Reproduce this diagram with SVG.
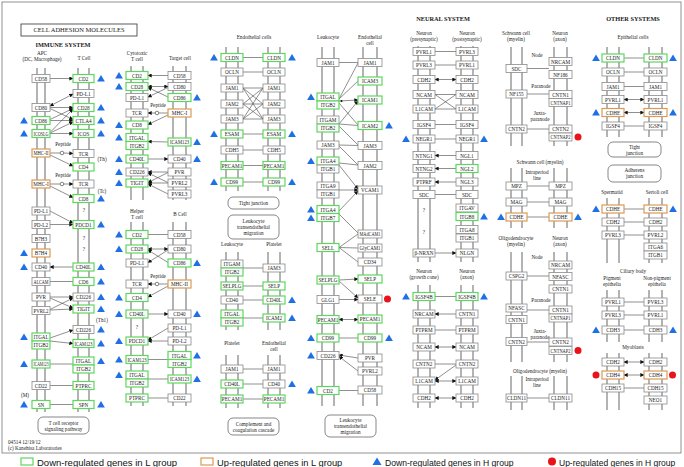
<svg xmlns="http://www.w3.org/2000/svg" xmlns:xlink="http://www.w3.org/1999/xlink" width="684" height="467" viewBox="0 0 684 467">
<style>
.b{fill:#fff;stroke:#8a8a8a;stroke-width:0.8}
.g{fill:#fff;stroke:#5fd65f;stroke-width:1.2}
.o{fill:#fff;stroke:#dc9a55;stroke-width:1.2}
.m{stroke:#a0a0a0;stroke-width:1.6}
.c{stroke:#444;stroke-width:0.6;fill:none}
.ca{marker-end:url(#a)}
.cb{marker-start:url(#a);marker-end:url(#a)}
.rb{fill:#fff;stroke:#555;stroke-width:0.7}
text{font-family:"Liberation Serif","Times New Roman",serif;font-size:5.2px;fill:#222;text-anchor:middle}
.h{font-weight:bold;font-size:6.3px}
.s{text-anchor:start}
.lg{font-family:"Liberation Sans",Arial,sans-serif;font-size:9.5px;text-anchor:start;fill:#111}
.rd{fill:#e8141a}
</style>
<defs>
<marker id="a" viewBox="0 0 6 6" refX="5.5" refY="3" markerWidth="4" markerHeight="4" markerUnits="userSpaceOnUse" orient="auto-start-reverse"><path d="M0,0L6,3L0,6Z" fill="#111"/></marker>
<path id="t" d="M0,-3.5L3.9,3L-3.9,3Z" fill="#1f6fe5"/>
</defs>
<rect x="2" y="2" width="679" height="451" fill="#fff" stroke="#777" stroke-width="0.8"/>
<g id="title"><rect x="21" y="24" width="116" height="12" fill="#fff" stroke="#333" stroke-width="0.8"/><text x="79" y="32.3" style="font-size:6.5px">CELL ADHESION MOLECULES</text></g>

<g id="labels">
<text class="h" x="63" y="47">IMMUNE SYSTEM</text>
<text x="42" y="55">APC</text><text x="42" y="61">(DC, Macrophage)</text><text x="84" y="60">T Cell</text>
<text x="63" y="146">Peptide</text><text x="63" y="177">Peptide</text>
<text x="102" y="161">(Th)</text><text x="102" y="193">(Tc)</text><text x="102" y="322">(Th1)</text><text x="25" y="397">(M)</text>
<text x="84" y="212">?</text><text x="84" y="240">?</text><text x="84" y="251">?</text>
<text x="137" y="55">Cytotoxic</text><text x="137" y="61">T cell</text><text x="180" y="60">Target cell</text>
<text x="158" y="107">Peptide</text>
<text x="137" y="213">Helper</text><text x="137" y="219">T cell</text><text x="180" y="216">B Cell</text>
<text x="158" y="278">Peptide</text><text x="137" y="329">?</text>
<text x="254" y="39">Endothelial cells</text>
<text x="232" y="246">Leukocyte</text><text x="274" y="246">Platelet</text>
<text x="232" y="345">Platelet</text><text x="274" y="345">Endothelial</text><text x="274" y="351">cell</text>
<text x="328" y="39">Leukocyte</text><text x="370" y="39">Endothelial</text><text x="370" y="45">cell</text>
<text class="h" x="443" y="21">NEURAL SYSTEM</text>
<text x="424" y="35">Neuron</text><text x="424" y="41">(presynaptic)</text><text x="467" y="35">Neuron</text><text x="467" y="41">(postsynaptic)</text>
<text x="424" y="212">?</text><text x="424" y="234">?</text>
<text x="424" y="273">Neuron</text><text x="424" y="279">(growth cone)</text><text x="467" y="273">Neuron</text><text x="467" y="279">(axon)</text>
<text x="516" y="35">Schwann cell</text><text x="516" y="41">(myelin)</text><text x="560" y="35">Neuron</text><text x="560" y="41">(axon)</text>
<text x="537" y="57">Node</text><text x="541" y="88">Paranode</text><text x="540" y="115">Juxta-</text><text x="540" y="121">paranode</text>
<text x="540" y="164">Schwann cell (myelin)</text><text x="537" y="174">Intraperiod</text><text x="537" y="180">line</text>
<text x="516" y="240">Oligodendrocyte</text><text x="516" y="246">(myelin)</text><text x="560" y="240">Neuron</text><text x="560" y="246">(axon)</text>
<text x="537" y="259">Node</text><text x="541" y="302">Paranode</text><text x="540" y="333">Juxta-</text><text x="540" y="339">paranode</text>
<text x="540" y="373">Oligodendrocyte (myelin)</text><text x="537" y="381">Intraperiod</text><text x="537" y="387">line</text>
<text class="h" x="633" y="21">OTHER SYSTEMS</text>
<text x="633" y="39">Epithelial cells</text>
<text x="612" y="194">Spermatid</text><text x="657" y="194">Sertoli cell</text>
<text x="633" y="273">Ciliary body</text><text x="612" y="280">Pigment</text><text x="612" y="286">epithelia</text><text x="657" y="280">Non-pigment</text><text x="657" y="286">epithelia</text>
<text x="633" y="349">Myoblasts</text>
<text class="s" x="8" y="444">04514 12/19/12</text><text class="s" x="8" y="450">(c) Kanehisa Laboratories</text>
</g>

<g id="membranes">
<line class="m" x1="37" y1="68" x2="37" y2="412"/><line class="m" x1="45" y1="68" x2="45" y2="412"/>
<line class="m" x1="78" y1="68" x2="78" y2="412"/><line class="m" x1="89" y1="68" x2="89" y2="412"/>
<line class="m" x1="131" y1="66" x2="131" y2="200"/><line class="m" x1="143" y1="66" x2="143" y2="200"/>
<line class="m" x1="173" y1="66" x2="173" y2="200"/><line class="m" x1="186" y1="66" x2="186" y2="200"/>
<line class="m" x1="131" y1="222" x2="131" y2="406"/><line class="m" x1="143" y1="222" x2="143" y2="406"/>
<line class="m" x1="173" y1="222" x2="173" y2="406"/><line class="m" x1="186" y1="222" x2="186" y2="406"/>
<line class="m" x1="226" y1="47" x2="226" y2="191"/><line class="m" x1="238" y1="47" x2="238" y2="191"/>
<line class="m" x1="268" y1="47" x2="268" y2="191"/><line class="m" x1="280" y1="47" x2="280" y2="191"/>
<line class="m" x1="226" y1="252" x2="226" y2="330"/><line class="m" x1="238" y1="252" x2="238" y2="330"/>
<line class="m" x1="268" y1="252" x2="268" y2="330"/><line class="m" x1="280" y1="252" x2="280" y2="330"/>
<line class="m" x1="226" y1="355" x2="226" y2="408"/><line class="m" x1="238" y1="355" x2="238" y2="408"/>
<line class="m" x1="268" y1="355" x2="268" y2="408"/><line class="m" x1="280" y1="355" x2="280" y2="408"/>
<line class="m" x1="322" y1="47" x2="322" y2="406"/><line class="m" x1="334" y1="47" x2="334" y2="406"/>
<line class="m" x1="363" y1="47" x2="363" y2="406"/><line class="m" x1="377" y1="47" x2="377" y2="406"/>
<line class="m" x1="418" y1="46" x2="418" y2="262"/><line class="m" x1="430" y1="46" x2="430" y2="262"/>
<line class="m" x1="461" y1="46" x2="461" y2="262"/><line class="m" x1="473" y1="46" x2="473" y2="262"/>
<line class="m" x1="418" y1="285" x2="418" y2="408"/><line class="m" x1="430" y1="285" x2="430" y2="408"/>
<line class="m" x1="461" y1="285" x2="461" y2="408"/><line class="m" x1="473" y1="285" x2="473" y2="408"/>
<line class="m" x1="511" y1="47" x2="511" y2="146"/><line class="m" x1="522" y1="47" x2="522" y2="146"/>
<line class="m" x1="554" y1="47" x2="554" y2="146"/><line class="m" x1="567" y1="47" x2="567" y2="146"/>
<line class="m" x1="511" y1="168" x2="511" y2="228"/><line class="m" x1="522" y1="168" x2="522" y2="228"/>
<line class="m" x1="554" y1="168" x2="554" y2="228"/><line class="m" x1="567" y1="168" x2="567" y2="228"/>
<line class="m" x1="511" y1="252" x2="511" y2="362"/><line class="m" x1="522" y1="252" x2="522" y2="362"/>
<line class="m" x1="554" y1="252" x2="554" y2="362"/><line class="m" x1="567" y1="252" x2="567" y2="362"/>
<line class="m" x1="511" y1="376" x2="511" y2="410"/><line class="m" x1="522" y1="376" x2="522" y2="410"/>
<line class="m" x1="554" y1="376" x2="554" y2="410"/><line class="m" x1="567" y1="376" x2="567" y2="410"/>
<line class="m" x1="607" y1="47" x2="607" y2="137"/><line class="m" x1="619" y1="47" x2="619" y2="137"/>
<line class="m" x1="649" y1="47" x2="649" y2="137"/><line class="m" x1="662" y1="47" x2="662" y2="137"/>
<line class="m" x1="607" y1="198" x2="607" y2="263"/><line class="m" x1="619" y1="198" x2="619" y2="263"/>
<line class="m" x1="649" y1="198" x2="649" y2="263"/><line class="m" x1="662" y1="198" x2="662" y2="263"/>
<line class="m" x1="607" y1="290" x2="607" y2="342"/><line class="m" x1="619" y1="290" x2="619" y2="342"/>
<line class="m" x1="649" y1="290" x2="649" y2="342"/><line class="m" x1="662" y1="290" x2="662" y2="342"/>
<line class="m" x1="607" y1="353" x2="607" y2="410"/><line class="m" x1="619" y1="353" x2="619" y2="410"/>
<line class="m" x1="649" y1="353" x2="649" y2="410"/><line class="m" x1="662" y1="353" x2="662" y2="410"/>
</g>

<g id="connectors">
<line class="c ca" x1="50" y1="78.5" x2="73" y2="78.5"/>
<line class="c cb" x1="50" y1="106" x2="73" y2="94"/>
<line class="c ca" x1="50" y1="107.5" x2="73" y2="107.5"/>
<line class="c ca" x1="50" y1="108.5" x2="73" y2="119.5"/>
<line class="c ca" x1="50" y1="119.5" x2="73" y2="108.5"/>
<line class="c ca" x1="50" y1="120.5" x2="73" y2="120.5"/>
<line class="c ca" x1="50" y1="132.5" x2="73" y2="109"/>
<line class="c ca" x1="50" y1="133" x2="73" y2="122"/>
<line class="c ca" x1="50" y1="133.5" x2="73" y2="133.5"/>
<line class="c" x1="50" y1="153" x2="60.2" y2="153"/><circle cx="62" cy="153" r="1.8" fill="#fff" stroke="#333" stroke-width="0.6"/><line class="c ca" x1="63.8" y1="153" x2="73" y2="153.5"/>
<line class="c ca" x1="50" y1="155" x2="73" y2="166"/>
<line class="c" x1="50" y1="184" x2="60.2" y2="184"/><circle cx="62" cy="184" r="1.8" fill="#fff" stroke="#333" stroke-width="0.6"/><line class="c ca" x1="63.8" y1="184" x2="73" y2="184"/>
<line class="c ca" x1="50" y1="186" x2="73" y2="197.5"/>
<line class="c ca" x1="50" y1="211" x2="73" y2="223"/>
<line class="c ca" x1="50" y1="224.5" x2="73" y2="224.5"/>
<line class="c ca" x1="73" y1="267" x2="50" y2="267"/>
<line class="c" x1="50" y1="281.5" x2="73" y2="281.5"/>
<line class="c ca" x1="50" y1="297" x2="73" y2="297"/>
<line class="c ca" x1="50" y1="298" x2="73" y2="308"/>
<line class="c ca" x1="50" y1="309.5" x2="73" y2="298"/>
<line class="c ca" x1="50" y1="310" x2="73" y2="309"/>
<line class="c ca" x1="50" y1="338" x2="73" y2="330"/>
<line class="c ca" x1="50" y1="341" x2="73" y2="343.5"/>
<line class="c" x1="50" y1="364" x2="73" y2="364"/>
<line class="c" x1="50" y1="385.5" x2="73" y2="385.5"/>
<line class="c" x1="50" y1="404.5" x2="73" y2="404.5"/>

<line class="c ca" x1="168" y1="75.5" x2="148" y2="75.5"/>
<line class="c cb" x1="168" y1="86.5" x2="148" y2="86.5"/>
<line class="c ca" x1="168" y1="87.5" x2="148" y2="97"/>
<line class="c ca" x1="168" y1="97" x2="148" y2="87.5"/>
<line class="c" x1="168" y1="113" x2="158.8" y2="113"/><circle cx="157" cy="113" r="1.8" fill="#fff" stroke="#333" stroke-width="0.6"/><line class="c ca" x1="155.2" y1="113" x2="148" y2="113"/>
<line class="c ca" x1="168" y1="115" x2="148" y2="124.5"/>
<line class="c ca" x1="168" y1="142" x2="148" y2="141.5"/>
<line class="c ca" x1="148" y1="159" x2="168" y2="159"/>
<line class="c ca" x1="168" y1="172" x2="148" y2="172"/>
<line class="c ca" x1="168" y1="172.5" x2="148" y2="182.5"/>
<line class="c ca" x1="168" y1="182.5" x2="148" y2="173"/>
<line class="c ca" x1="168" y1="183" x2="148" y2="183"/>
<line class="c ca" x1="168" y1="194" x2="148" y2="184"/>

<line class="c" x1="168" y1="234.5" x2="148" y2="234.5"/>
<line class="c cb" x1="168" y1="249" x2="148" y2="249"/>
<line class="c ca" x1="168" y1="250" x2="148" y2="262.5"/>
<line class="c ca" x1="168" y1="262.5" x2="148" y2="250"/>
<line class="c" x1="168" y1="284" x2="158.8" y2="284"/><circle cx="157" cy="284" r="1.8" fill="#fff" stroke="#333" stroke-width="0.6"/><line class="c ca" x1="155.2" y1="284" x2="148" y2="284"/>
<line class="c ca" x1="168" y1="286" x2="148" y2="297"/>
<line class="c ca" x1="148" y1="314" x2="168" y2="314"/>
<line class="c ca" x1="168" y1="328" x2="148" y2="340"/>
<line class="c ca" x1="168" y1="341" x2="148" y2="341"/>
<line class="c" x1="148" y1="359.5" x2="168" y2="359.5"/>
<line class="c" x1="148" y1="379" x2="168" y2="379"/>
<line class="c" x1="148" y1="398" x2="168" y2="398"/>

<path class="c" d="M243,57.5H263M243,72H263M243,88H263M243,104H263M243,119H263M243,134H263M243,150H263M243,165.5H263M243,182H263M243,88L263,104M243,88L263,119M243,104L263,88M243,104L263,119M243,119L263,88M243,119L263,104"/>
<path class="c" d="M243,268H263M243,286H263M243,300H263M243,318H263M243,369H263M243,384H263M243,399H263"/>

<path class="c" d="M339,62.5H358M339,99L358,63M339,99L358,81M339,103L358,125M339,124L358,125.5M339,126L358,145M339,145L358,145.5M339,146L358,165M339,163L358,165M339,214L358,233M339,247.5L358,234M339,247.5L358,248M339,247.5L358,262M339,338H358M339,390.5H358"/>
<line class="c ca" x1="339" y1="101" x2="358" y2="100"/><circle cx="341.5" cy="101" r="1" fill="#111"/>
<line class="c ca" x1="339" y1="124" x2="358" y2="101"/>
<line class="c ca" x1="339" y1="165" x2="358" y2="189"/>
<line class="c ca" x1="339" y1="190" x2="358" y2="190"/>
<line class="c ca" x1="339" y1="211" x2="358" y2="191"/>
<line class="c ca" x1="339" y1="280" x2="358" y2="279"/>
<line class="c ca" x1="339" y1="281" x2="358" y2="298"/>
<line class="c ca" x1="339" y1="299.5" x2="358" y2="299.5"/>
<line class="c cb" x1="339" y1="319.5" x2="358" y2="319.5"/>
<line class="c ca" x1="358" y1="358" x2="339" y2="355"/>
<line class="c ca" x1="358" y1="371" x2="339" y2="356.5"/>

<path class="c" d="M435,51.5H456M435,65H456M435,94.5H456M435,109H456M435,94.5L456,109M435,109L456,94.5M435,124.5H456M435,139H456M435,194.5H456M435,296.5H456M435,330H456M435,364H456"/>
<line class="c cb" x1="435" y1="79.5" x2="456" y2="79.5"/>
<line class="c ca" x1="456" y1="155.5" x2="435" y2="155.5"/>
<line class="c ca" x1="456" y1="168.5" x2="435" y2="168.5"/>
<line class="c ca" x1="456" y1="182" x2="435" y2="182"/>
<line class="c ca" x1="435" y1="253" x2="456" y2="253"/>
<line class="c ca" x1="456" y1="314" x2="435" y2="314"/>
<line class="c cb" x1="435" y1="347" x2="456" y2="347"/>
<line class="c ca" x1="456" y1="365" x2="435" y2="380"/>
<line class="c cb" x1="435" y1="381" x2="456" y2="381"/>
<line class="c cb" x1="435" y1="398" x2="456" y2="398"/>

<path class="c" d="M527,68.5H549M527,94H549M527,129H549M527,186H549M527,202H549M527,217H549M527,276H549M527,310H549M527,342H549M527,398H549"/>

<path class="c" d="M624,58H644M624,72H644M624,86.5H644M624,126H644M624,209H644M624,222H644M624,235H644M624,302H644M624,315H644M624,330H644M624,388H644"/>
<line class="c cb" x1="624" y1="99.5" x2="644" y2="99.5"/>
<line class="c cb" x1="624" y1="112.5" x2="644" y2="112.5"/>
<line class="c cb" x1="624" y1="362" x2="644" y2="362"/>
<line class="c cb" x1="624" y1="375" x2="644" y2="375"/>
</g>

<g id="pathways">
<g id="pw-tcr"><rect class="rb" x="38" y="417" width="51" height="17" rx="5"/><text x="63.5" y="424.5">T cell receptor</text><text x="63.5" y="430.5">signaling pathway</text></g>
<g id="pw-tj1"><rect class="rb" x="228" y="197" width="51" height="12" rx="5"/><text x="253.5" y="205">Tight junction</text></g>
<g id="pw-lte1"><rect class="rb" x="228" y="215" width="51" height="24" rx="5"/><text x="253.5" y="223">Leukocyte</text><text x="253.5" y="229">transendothelial</text><text x="253.5" y="235">migration</text></g>
<g id="pw-cc"><rect class="rb" x="228" y="418" width="51" height="17" rx="5"/><text x="253.5" y="425.5">Complement and</text><text x="253.5" y="431.5">coagulation cascade</text></g>
<g id="pw-lte2"><rect class="rb" x="325" y="415" width="51" height="22" rx="5"/><text x="350.5" y="422">Leukocyte</text><text x="350.5" y="428">transendothelial</text><text x="350.5" y="434">migration</text></g>
<g id="pw-tj2"><rect class="rb" x="608" y="142" width="53" height="15" rx="5"/><text x="634.5" y="149">Tight</text><text x="634.5" y="155">junction</text></g>
<g id="pw-aj"><rect class="rb" x="608" y="165" width="53" height="17" rx="5"/><text x="634.5" y="172">Adherens</text><text x="634.5" y="178">junction</text></g>
</g>

<g id="immune-apc-tcell">
<g id="a1"><rect class="b" x="32" y="74.5" width="18" height="8"/><text x="41" y="80.5">CD58</text></g>
<g id="a2"><rect class="b" x="32" y="103.5" width="18" height="8"/><text x="41" y="109.5">CD80</text></g>
<g id="a3"><rect class="g" x="32" y="116.5" width="18" height="8"/><text x="41" y="122.5">CD86</text><use href="#t" x="24" y="120.5"/></g>
<g id="a4"><rect class="g" x="32" y="129.5" width="18" height="8"/><text x="41" y="135.5" textLength="15" lengthAdjust="spacingAndGlyphs">ICOSLG</text><use href="#t" x="24" y="133.5"/></g>
<g id="a5"><rect class="o" x="32" y="149" width="18" height="8"/><text x="41" y="155" textLength="15" lengthAdjust="spacingAndGlyphs">MHC-II</text></g>
<g id="a6"><rect class="o" x="32" y="180" width="18" height="8"/><text x="41" y="186">MHC-I</text></g>
<g id="a7"><rect class="b" x="32" y="207" width="18" height="8"/><text x="41" y="213">PD-L1</text></g>
<g id="a8"><rect class="b" x="32" y="220.5" width="18" height="8"/><text x="41" y="226.5">PD-L2</text></g>
<g id="a9"><rect class="b" x="32" y="234.5" width="18" height="8"/><text x="41" y="240.5">B7H3</text></g>
<g id="a10"><rect class="o" x="32" y="249" width="18" height="8"/><text x="41" y="255">B7H4</text><use href="#t" x="24" y="253"/></g>
<g id="a11"><rect class="b" x="32" y="263" width="18" height="8"/><text x="41" y="269">CD40</text><use href="#t" x="24" y="267"/></g>
<g id="a12"><rect class="b" x="32" y="277.5" width="18" height="8"/><text x="41" y="283.5" textLength="15" lengthAdjust="spacingAndGlyphs">ALCAM</text></g>
<g id="a13"><rect class="b" x="32" y="293" width="18" height="8"/><text x="41" y="299">PVR</text></g>
<g id="a14"><rect class="b" x="32" y="306.5" width="18" height="8"/><text x="41" y="312.5" textLength="15" lengthAdjust="spacingAndGlyphs">PVRL2</text></g>
<g id="a15"><rect class="g" x="32" y="333" width="18" height="8"/><text x="41" y="339" textLength="15" lengthAdjust="spacingAndGlyphs">ITGAL</text><rect class="g" x="32" y="341" width="18" height="8"/><text x="41" y="347" textLength="15" lengthAdjust="spacingAndGlyphs">ITGB2</text><use href="#t" x="24" y="337"/></g>
<g id="a16"><rect class="g" x="32" y="360" width="18" height="8"/><text x="41" y="366" textLength="15" lengthAdjust="spacingAndGlyphs">ICAM123</text><use href="#t" x="24" y="364"/></g>
<g id="a17"><rect class="b" x="32" y="381.5" width="18" height="8"/><text x="41" y="387.5">CD22</text></g>
<g id="a18"><rect class="g" x="32" y="400.5" width="18" height="8"/><text x="41" y="406.5">SN</text><use href="#t" x="24" y="404.5"/></g>

<g id="t1"><rect class="g" x="73" y="74.5" width="21" height="8"/><text x="83.5" y="80.5">CD2</text><use href="#t" x="101" y="78.5"/></g>
<g id="t2"><rect class="b" x="73" y="89.5" width="21" height="8"/><text x="83.5" y="95.5">PD-L1</text></g>
<g id="t3"><rect class="g" x="73" y="103.5" width="21" height="8"/><text x="83.5" y="109.5">CD28</text><use href="#t" x="101" y="107.5"/></g>
<g id="t4"><rect class="g" x="73" y="116.5" width="21" height="8"/><text x="83.5" y="122.5">CTLA4</text><use href="#t" x="101" y="120.5"/></g>
<g id="t5"><rect class="g" x="73" y="129.5" width="21" height="8"/><text x="83.5" y="135.5">ICOS</text><use href="#t" x="101" y="133.5"/></g>
<g id="t6"><rect class="b" x="73" y="149.5" width="21" height="8"/><text x="83.5" y="155.5">TCR</text></g>
<g id="t7"><rect class="g" x="73" y="163" width="21" height="8"/><text x="83.5" y="169">CD4</text></g>
<g id="t8"><rect class="b" x="73" y="180" width="21" height="8"/><text x="83.5" y="186">TCR</text></g>
<g id="t9"><rect class="g" x="73" y="194.5" width="21" height="8"/><text x="83.5" y="200.5">CD8</text><use href="#t" x="101" y="198.5"/></g>
<g id="t10"><rect class="g" x="73" y="220.5" width="21" height="8"/><text x="83.5" y="226.5">PDCD1</text><use href="#t" x="101" y="224.5"/></g>
<g id="t11"><rect class="g" x="73" y="263" width="21" height="8"/><text x="83.5" y="269">CD40L</text><use href="#t" x="101" y="267"/></g>
<g id="t12"><rect class="g" x="73" y="277.5" width="21" height="8"/><text x="83.5" y="283.5">CD6</text><use href="#t" x="101" y="281.5"/></g>
<g id="t13"><rect class="b" x="73" y="293" width="21" height="8"/><text x="83.5" y="299">CD226</text><use href="#t" x="101" y="297"/></g>
<g id="t14"><rect class="g" x="73" y="305" width="21" height="8"/><text x="83.5" y="311">TIGIT</text><use href="#t" x="101" y="309"/></g>
<g id="t15"><rect class="b" x="73" y="325.5" width="21" height="8"/><text x="83.5" y="331.5">CD226</text><use href="#t" x="101" y="329.5"/></g>
<g id="t16"><rect class="g" x="73" y="339.5" width="21" height="8"/><text x="83.5" y="345.5" textLength="18" lengthAdjust="spacingAndGlyphs">ICAM123</text><use href="#t" x="101" y="343.5"/></g>
<g id="t17"><rect class="g" x="73" y="357" width="21" height="8"/><text x="83.5" y="363">ITGAL</text><rect class="g" x="73" y="365" width="21" height="8"/><text x="83.5" y="371">ITGB2</text><use href="#t" x="101" y="361"/></g>
<g id="t18"><rect class="g" x="73" y="381.5" width="21" height="8"/><text x="83.5" y="387.5">PTPRC</text></g>
<g id="t19"><rect class="g" x="73" y="400.5" width="21" height="8"/><text x="83.5" y="406.5">SPN</text><use href="#t" x="101" y="404.5"/></g>
</g>

<g id="immune-ctl-target">
<g id="c1"><rect class="g" x="126" y="71.5" width="22" height="8"/><text x="137" y="77.5">CD2</text><use href="#t" x="119" y="75.5"/></g>
<g id="c2"><rect class="g" x="126" y="82.5" width="22" height="8"/><text x="137" y="88.5">CD28</text><use href="#t" x="119" y="86.5"/></g>
<g id="c3"><rect class="b" x="126" y="93.5" width="22" height="8"/><text x="137" y="99.5">PD-L1</text></g>
<g id="c4"><rect class="b" x="126" y="109" width="22" height="8"/><text x="137" y="115">TCR</text></g>
<g id="c5"><rect class="g" x="126" y="121" width="22" height="8"/><text x="137" y="127">CD8</text><use href="#t" x="119" y="125"/></g>
<g id="c6"><rect class="g" x="126" y="133.5" width="22" height="8"/><text x="137" y="139.5">ITGAL</text><rect class="g" x="126" y="141.5" width="22" height="8"/><text x="137" y="147.5">ITGB2</text><use href="#t" x="119" y="137.5"/></g>
<g id="c7"><rect class="g" x="126" y="155" width="22" height="8"/><text x="137" y="161">CD40L</text><use href="#t" x="119" y="159"/></g>
<g id="c8"><rect class="b" x="126" y="168" width="22" height="8"/><text x="137" y="174">CD226</text><use href="#t" x="119" y="172"/></g>
<g id="c9"><rect class="g" x="126" y="179" width="22" height="8"/><text x="137" y="185">TIGIT</text><use href="#t" x="119" y="183"/></g>
<g id="g1"><rect class="b" x="168" y="71.5" width="23" height="8"/><text x="179.5" y="77.5">CD58</text></g>
<g id="g2"><rect class="b" x="168" y="82.5" width="23" height="8"/><text x="179.5" y="88.5">CD80</text></g>
<g id="g3"><rect class="g" x="168" y="93.5" width="23" height="8"/><text x="179.5" y="99.5">CD86</text><use href="#t" x="197" y="97.5"/></g>
<g id="g4"><rect class="o" x="168" y="109" width="23" height="8"/><text x="179.5" y="115">MHC-I</text></g>
<g id="g5"><rect class="g" x="168" y="138" width="23" height="8"/><text x="179.5" y="144" textLength="19" lengthAdjust="spacingAndGlyphs">ICAM123</text><use href="#t" x="197" y="142"/></g>
<g id="g6"><rect class="b" x="168" y="155" width="23" height="8"/><text x="179.5" y="161">CD40</text><use href="#t" x="197" y="159"/></g>
<g id="g7"><rect class="b" x="168" y="168" width="23" height="8"/><text x="179.5" y="174">PVR</text></g>
<g id="g8"><rect class="b" x="168" y="179" width="23" height="8"/><text x="179.5" y="185">PVRL2</text></g>
<g id="g9"><rect class="b" x="168" y="190" width="23" height="8"/><text x="179.5" y="196">PVRL3</text></g>
</g>

<g id="immune-th-bcell">
<g id="h1"><rect class="g" x="126" y="230.5" width="22" height="8"/><text x="137" y="236.5">CD2</text><use href="#t" x="119" y="234.5"/></g>
<g id="h2"><rect class="g" x="126" y="245" width="22" height="8"/><text x="137" y="251">CD28</text><use href="#t" x="119" y="249"/></g>
<g id="h3"><rect class="b" x="126" y="259" width="22" height="8"/><text x="137" y="265">PD-L1</text></g>
<g id="h4"><rect class="b" x="126" y="280" width="22" height="8"/><text x="137" y="286">TCR</text></g>
<g id="h5"><rect class="g" x="126" y="293.5" width="22" height="8"/><text x="137" y="299.5">CD4</text><use href="#t" x="119" y="297.5"/></g>
<g id="h6"><rect class="g" x="126" y="310" width="22" height="8"/><text x="137" y="316">CD40L</text><use href="#t" x="119" y="314"/></g>
<g id="h7"><rect class="g" x="126" y="337" width="22" height="8"/><text x="137" y="343">PDCD1</text><use href="#t" x="119" y="341"/></g>
<g id="h8"><rect class="g" x="126" y="355.5" width="22" height="8"/><text x="137" y="361.5" textLength="19" lengthAdjust="spacingAndGlyphs">ICAM123</text><use href="#t" x="119" y="359.5"/></g>
<g id="h9"><rect class="g" x="126" y="371" width="22" height="8"/><text x="137" y="377">ITGAL</text><rect class="g" x="126" y="379" width="22" height="8"/><text x="137" y="385">ITGB2</text><use href="#t" x="119" y="375"/></g>
<g id="h10"><rect class="g" x="126" y="394" width="22" height="8"/><text x="137" y="400">PTPRC</text></g>
<g id="bc1"><rect class="b" x="168" y="230.5" width="23" height="8"/><text x="179.5" y="236.5">CD58</text></g>
<g id="bc2"><rect class="b" x="168" y="245" width="23" height="8"/><text x="179.5" y="251">CD80</text></g>
<g id="bc3"><rect class="g" x="168" y="259" width="23" height="8"/><text x="179.5" y="265">CD86</text><use href="#t" x="197" y="263"/></g>
<g id="bc4"><rect class="o" x="168" y="280" width="23" height="8"/><text x="179.5" y="286">MHC-II</text></g>
<g id="bc5"><rect class="b" x="168" y="310" width="23" height="8"/><text x="179.5" y="316">CD40</text><use href="#t" x="197" y="314"/></g>
<g id="bc6"><rect class="b" x="168" y="324" width="23" height="8"/><text x="179.5" y="330">PD-L1</text></g>
<g id="bc7"><rect class="b" x="168" y="337" width="23" height="8"/><text x="179.5" y="343">PD-L2</text></g>
<g id="bc8"><rect class="g" x="168" y="351.5" width="23" height="8"/><text x="179.5" y="357.5">ITGAL</text><rect class="g" x="168" y="359.5" width="23" height="8"/><text x="179.5" y="365.5">ITGB2</text><use href="#t" x="197" y="355.5"/></g>
<g id="bc9"><rect class="g" x="168" y="375" width="23" height="8"/><text x="179.5" y="381" textLength="19" lengthAdjust="spacingAndGlyphs">ICAM123</text><use href="#t" x="197" y="379"/></g>
<g id="bc10"><rect class="b" x="168" y="394" width="23" height="8"/><text x="179.5" y="400">CD22</text></g>
</g>

<g id="endothelial-tj">
<g id="e1"><rect class="g" x="221" y="53.5" width="22" height="8"/><text x="232" y="59.5">CLDN</text><use href="#t" x="214" y="57.5"/></g>
<g id="e2"><rect class="b" x="221" y="68" width="22" height="8"/><text x="232" y="74">OCLN</text></g>
<g id="e3"><rect class="b" x="221" y="84" width="22" height="8"/><text x="232" y="90">JAM1</text></g>
<g id="e4"><rect class="b" x="221" y="100" width="22" height="8"/><text x="232" y="106">JAM2</text></g>
<g id="e5"><rect class="b" x="221" y="115" width="22" height="8"/><text x="232" y="121">JAM3</text></g>
<g id="e6"><rect class="g" x="221" y="130" width="22" height="8"/><text x="232" y="136">ESAM</text><use href="#t" x="214" y="134"/></g>
<g id="e7"><rect class="b" x="221" y="146" width="22" height="8"/><text x="232" y="152">CDH5</text></g>
<g id="e8"><rect class="g" x="221" y="161.5" width="22" height="8"/><text x="232" y="167.5">PECAM1</text></g>
<g id="e9"><rect class="g" x="221" y="178" width="22" height="8"/><text x="232" y="184">CD99</text><use href="#t" x="214" y="182"/></g>
<g id="f1"><rect class="g" x="263" y="53.5" width="22" height="8"/><text x="274" y="59.5">CLDN</text><use href="#t" x="292" y="57.5"/></g>
<g id="f2"><rect class="b" x="263" y="68" width="22" height="8"/><text x="274" y="74">OCLN</text></g>
<g id="f3"><rect class="b" x="263" y="84" width="22" height="8"/><text x="274" y="90">JAM1</text></g>
<g id="f4"><rect class="b" x="263" y="100" width="22" height="8"/><text x="274" y="106">JAM2</text></g>
<g id="f5"><rect class="b" x="263" y="115" width="22" height="8"/><text x="274" y="121">JAM3</text></g>
<g id="f6"><rect class="g" x="263" y="130" width="22" height="8"/><text x="274" y="136">ESAM</text><use href="#t" x="292" y="134"/></g>
<g id="f7"><rect class="b" x="263" y="146" width="22" height="8"/><text x="274" y="152">CDH5</text></g>
<g id="f8"><rect class="g" x="263" y="161.5" width="22" height="8"/><text x="274" y="167.5">PECAM1</text></g>
<g id="f9"><rect class="g" x="263" y="178" width="22" height="8"/><text x="274" y="184">CD99</text><use href="#t" x="292" y="182"/></g>
</g>

<g id="leuk-platelet">
<g id="lp1"><rect class="b" x="221" y="260" width="22" height="8"/><text x="232" y="266">ITGAM</text><rect class="g" x="221" y="268" width="22" height="8"/><text x="232" y="274">ITGB2</text></g>
<g id="lp2"><rect class="g" x="221" y="282" width="22" height="8"/><text x="232" y="288">SELPLG</text></g>
<g id="lp3"><rect class="b" x="221" y="296" width="22" height="8"/><text x="232" y="302">CD40</text></g>
<g id="lp4"><rect class="g" x="221" y="310" width="22" height="8"/><text x="232" y="316">ITGAL</text><rect class="g" x="221" y="318" width="22" height="8"/><text x="232" y="324">ITGB2</text></g>
<g id="pl1"><rect class="b" x="263" y="264" width="22" height="8"/><text x="274" y="270">JAM3</text></g>
<g id="pl2"><rect class="g" x="263" y="282" width="22" height="8"/><text x="274" y="288">SELP</text></g>
<g id="pl3"><rect class="g" x="263" y="296" width="22" height="8"/><text x="274" y="302">CD40L</text><use href="#t" x="292" y="300"/></g>
<g id="pl4"><rect class="g" x="263" y="314" width="22" height="8"/><text x="274" y="320">ICAM2</text><use href="#t" x="292" y="318"/></g>
<g id="pe1"><rect class="b" x="221" y="365" width="22" height="8"/><text x="232" y="371">JAM1</text></g>
<g id="pe2"><rect class="g" x="221" y="380" width="22" height="8"/><text x="232" y="386">CD40L</text></g>
<g id="pe3"><rect class="g" x="221" y="395" width="22" height="8"/><text x="232" y="401">PECAM1</text></g>
<g id="ep1"><rect class="b" x="263" y="365" width="22" height="8"/><text x="274" y="371">JAM1</text></g>
<g id="ep2"><rect class="b" x="263" y="380" width="22" height="8"/><text x="274" y="386">CD40</text><use href="#t" x="292" y="384"/></g>
<g id="ep3"><rect class="g" x="263" y="395" width="22" height="8"/><text x="274" y="401">PECAM1</text></g>
</g>

<g id="leuk-endo-migration">
<g id="m1"><rect class="b" x="317" y="58.5" width="22" height="8"/><text x="328" y="64.5">JAM1</text></g>
<g id="m2"><rect class="g" x="317" y="93" width="22" height="8"/><text x="328" y="99">ITGAL</text><rect class="g" x="317" y="101" width="22" height="8"/><text x="328" y="107">ITGB2</text><use href="#t" x="311" y="97"/></g>
<g id="m3"><rect class="b" x="317" y="116" width="22" height="8"/><text x="328" y="122">ITGAM</text><rect class="g" x="317" y="124" width="22" height="8"/><text x="328" y="130">ITGB2</text></g>
<g id="m4"><rect class="b" x="317" y="141" width="22" height="8"/><text x="328" y="147">JAM3</text></g>
<g id="m5"><rect class="g" x="317" y="157" width="22" height="8"/><text x="328" y="163">ITGA4</text><rect class="b" x="317" y="165" width="22" height="8"/><text x="328" y="171">ITGB1</text><use href="#t" x="311" y="161"/></g>
<g id="m6"><rect class="b" x="317" y="182" width="22" height="8"/><text x="328" y="188">ITGA9</text><rect class="b" x="317" y="190" width="22" height="8"/><text x="328" y="196">ITGB1</text></g>
<g id="m7"><rect class="g" x="317" y="205.5" width="22" height="8"/><text x="328" y="211.5">ITGA4</text><rect class="g" x="317" y="213.5" width="22" height="8"/><text x="328" y="219.5">ITGB7</text><use href="#t" x="311" y="209.5"/><use href="#t" x="311" y="218"/></g>
<g id="m8"><rect class="g" x="317" y="243.5" width="22" height="8"/><text x="328" y="249.5">SELL</text></g>
<g id="m9"><rect class="g" x="317" y="276" width="22" height="8"/><text x="328" y="282">SELPLG</text></g>
<g id="m10"><rect class="b" x="317" y="295.5" width="22" height="8"/><text x="328" y="301.5">GLG1</text></g>
<g id="m11"><rect class="g" x="317" y="315.5" width="22" height="8"/><text x="328" y="321.5">PECAM1</text></g>
<g id="m12"><rect class="g" x="317" y="334" width="22" height="8"/><text x="328" y="340">CD99</text><use href="#t" x="311" y="338"/></g>
<g id="m13"><rect class="b" x="317" y="351.5" width="22" height="8"/><text x="328" y="357.5">CD226</text><use href="#t" x="311" y="355.5"/></g>
<g id="m14"><rect class="g" x="317" y="386.5" width="22" height="8"/><text x="328" y="392.5">CD2</text><use href="#t" x="311" y="390.5"/></g>
<g id="n1"><rect class="b" x="358" y="58.5" width="24" height="8"/><text x="370" y="64.5">JAM1</text></g>
<g id="n2"><rect class="g" x="358" y="77" width="24" height="8"/><text x="370" y="83">ICAM3</text></g>
<g id="n3"><rect class="g" x="358" y="96" width="24" height="8"/><text x="370" y="102">ICAM1</text></g>
<g id="n4"><rect class="g" x="358" y="121.5" width="24" height="8"/><text x="370" y="127.5">ICAM2</text><use href="#t" x="389" y="125.5"/></g>
<g id="n5"><rect class="b" x="358" y="141.5" width="24" height="8"/><text x="370" y="147.5">JAM3</text></g>
<g id="n6"><rect class="b" x="358" y="161.5" width="24" height="8"/><text x="370" y="167.5">JAM2</text></g>
<g id="n7"><rect class="b" x="358" y="186" width="24" height="8"/><text x="370" y="192">VCAM1</text></g>
<g id="n8"><rect class="b" x="358" y="230" width="24" height="8"/><text x="370" y="236" textLength="21" lengthAdjust="spacingAndGlyphs">MAdCAM1</text></g>
<g id="n9"><rect class="b" x="358" y="244" width="24" height="8"/><text x="370" y="250" textLength="21" lengthAdjust="spacingAndGlyphs">GlyCAM1</text></g>
<g id="n10"><rect class="b" x="358" y="258" width="24" height="8"/><text x="370" y="264">CD34</text></g>
<g id="n11"><rect class="g" x="358" y="275" width="24" height="8"/><text x="370" y="281">SELP</text></g>
<g id="n12"><rect class="b" x="358" y="295" width="24" height="8"/><text x="370" y="301">SELE</text><circle class="rd" cx="387.5" cy="299" r="3.5"/></g>
<g id="n13"><rect class="g" x="358" y="315" width="24" height="8"/><text x="370" y="321">PECAM1</text></g>
<g id="n14"><rect class="g" x="358" y="334" width="24" height="8"/><text x="370" y="340">CD99</text><use href="#t" x="389" y="338"/></g>
<g id="n15"><rect class="b" x="358" y="354" width="24" height="8"/><text x="370" y="360">PVR</text></g>
<g id="n16"><rect class="b" x="358" y="367" width="24" height="8"/><text x="370" y="373">PVRL2</text></g>
<g id="n17"><rect class="b" x="358" y="386" width="24" height="8"/><text x="370" y="392">CD58</text></g>
</g>

<g id="neural">
<g id="np1"><rect class="b" x="413" y="47.5" width="22" height="8"/><text x="424" y="53.5">PVRL1</text></g>
<g id="np2"><rect class="b" x="413" y="61" width="22" height="8"/><text x="424" y="67">PVRL3</text></g>
<g id="np3"><rect class="b" x="413" y="75.5" width="22" height="8"/><text x="424" y="81.5">CDH2</text></g>
<g id="np4"><rect class="b" x="413" y="90.5" width="22" height="8"/><text x="424" y="96.5">NCAM</text></g>
<g id="np5"><rect class="b" x="413" y="105" width="22" height="8"/><text x="424" y="111">L1CAM</text></g>
<g id="np6"><rect class="b" x="413" y="120.5" width="22" height="8"/><text x="424" y="126.5">IGSF4</text></g>
<g id="np7"><rect class="b" x="413" y="135" width="22" height="8"/><text x="424" y="141">NEGR1</text><use href="#t" x="406" y="139"/></g>
<g id="np8"><rect class="b" x="413" y="151.5" width="22" height="8"/><text x="424" y="157.5">NTNG1</text></g>
<g id="np9"><rect class="b" x="413" y="164.5" width="22" height="8"/><text x="424" y="170.5">NTNG2</text></g>
<g id="np10"><rect class="b" x="413" y="178" width="22" height="8"/><text x="424" y="184">PTPRF</text></g>
<g id="np11"><rect class="b" x="413" y="190.5" width="22" height="8"/><text x="424" y="196.5">SDC</text></g>
<g id="np12"><rect class="b" x="413" y="249" width="22" height="8"/><text x="424" y="255">β-NRXN</text></g>
<g id="nq1"><rect class="b" x="456" y="47.5" width="22" height="8"/><text x="467" y="53.5">PVRL3</text></g>
<g id="nq2"><rect class="b" x="456" y="61" width="22" height="8"/><text x="467" y="67">PVRL1</text></g>
<g id="nq3"><rect class="b" x="456" y="75.5" width="22" height="8"/><text x="467" y="81.5">CDH2</text></g>
<g id="nq4"><rect class="b" x="456" y="90.5" width="22" height="8"/><text x="467" y="96.5">NCAM</text></g>
<g id="nq5"><rect class="b" x="456" y="105" width="22" height="8"/><text x="467" y="111">L1CAM</text></g>
<g id="nq6"><rect class="b" x="456" y="120.5" width="22" height="8"/><text x="467" y="126.5">IGSF4</text></g>
<g id="nq7"><rect class="b" x="456" y="135" width="22" height="8"/><text x="467" y="141">NEGR1</text><use href="#t" x="484" y="139"/></g>
<g id="nq8"><rect class="b" x="456" y="151.5" width="22" height="8"/><text x="467" y="157.5">NGL1</text></g>
<g id="nq9"><rect class="g" x="456" y="164.5" width="22" height="8"/><text x="467" y="170.5">NGL2</text></g>
<g id="nq10"><rect class="b" x="456" y="178" width="22" height="8"/><text x="467" y="184">NGL3</text></g>
<g id="nq11"><rect class="b" x="456" y="190.5" width="22" height="8"/><text x="467" y="196.5">SDC</text></g>
<g id="nq12"><rect class="b" x="456" y="204" width="22" height="8"/><text x="467" y="210">ITGAV</text><rect class="g" x="456" y="212.5" width="22" height="8"/><text x="467" y="218.5">ITGB8</text><use href="#t" x="484" y="216.5"/></g>
<g id="nq13"><rect class="b" x="456" y="225.5" width="22" height="8"/><text x="467" y="231.5">ITGA8</text><rect class="b" x="456" y="234" width="22" height="8"/><text x="467" y="240">ITGB1</text></g>
<g id="nq14"><rect class="b" x="456" y="249" width="22" height="8"/><text x="467" y="255">NLGN</text></g>
<g id="ng1"><rect class="g" x="413" y="292.5" width="22" height="8"/><text x="424" y="298.5">IGSF4B</text><use href="#t" x="406" y="296.5"/></g>
<g id="ng2"><rect class="b" x="413" y="310" width="22" height="8"/><text x="424" y="316">NRCAM</text></g>
<g id="ng3"><rect class="b" x="413" y="326" width="22" height="8"/><text x="424" y="332">PTPRM</text></g>
<g id="ng4"><rect class="b" x="413" y="343" width="22" height="8"/><text x="424" y="349">NCAM</text></g>
<g id="ng5"><rect class="b" x="413" y="360" width="22" height="8"/><text x="424" y="366">CNTN2</text></g>
<g id="ng6"><rect class="b" x="413" y="377" width="22" height="8"/><text x="424" y="383">L1CAM</text></g>
<g id="ng7"><rect class="b" x="413" y="394" width="22" height="8"/><text x="424" y="400">CDH2</text></g>
<g id="na1"><rect class="g" x="456" y="292.5" width="22" height="8"/><text x="467" y="298.5">IGSF4B</text><use href="#t" x="484" y="296.5"/></g>
<g id="na2"><rect class="b" x="456" y="310" width="22" height="8"/><text x="467" y="316">CNTN1</text></g>
<g id="na3"><rect class="b" x="456" y="326" width="22" height="8"/><text x="467" y="332">PTPRM</text></g>
<g id="na4"><rect class="b" x="456" y="343" width="22" height="8"/><text x="467" y="349">NCAM</text></g>
<g id="na5"><rect class="b" x="456" y="360" width="22" height="8"/><text x="467" y="366">CNTN2</text></g>
<g id="na6"><rect class="b" x="456" y="377" width="22" height="8"/><text x="467" y="383">L1CAM</text></g>
<g id="na7"><rect class="b" x="456" y="394" width="22" height="8"/><text x="467" y="400">CDH2</text></g>
</g>

<g id="glia">
<g id="sw1"><rect class="b" x="506" y="64.5" width="21" height="8"/><text x="516.5" y="70.5">SDC</text></g>
<g id="sw2"><rect class="b" x="506" y="90" width="21" height="8"/><text x="516.5" y="96">NF155</text></g>
<g id="sw3"><rect class="b" x="506" y="125" width="21" height="8"/><text x="516.5" y="131">CNTN2</text></g>
<g id="sx1"><rect class="b" x="549" y="57.5" width="23" height="8"/><text x="560.5" y="63.5">NRCAM</text></g>
<g id="sx2"><rect class="b" x="549" y="70.5" width="23" height="8"/><text x="560.5" y="76.5">NF186</text></g>
<g id="sx3"><rect class="b" x="549" y="90.5" width="23" height="8"/><text x="560.5" y="96.5">CNTN1</text><rect class="b" x="549" y="98.5" width="23" height="8"/><text x="560.5" y="104.5" textLength="20" lengthAdjust="spacingAndGlyphs">CNTNAP1</text></g>
<g id="sx4"><rect class="b" x="549" y="125" width="23" height="8"/><text x="560.5" y="131">CNTN2</text><rect class="b" x="549" y="133" width="23" height="8"/><text x="560.5" y="139" textLength="20" lengthAdjust="spacingAndGlyphs">CNTNAP2</text><circle class="rd" cx="578" cy="137" r="3.5"/></g>
<g id="sm1"><rect class="b" x="506" y="182" width="21" height="8"/><text x="516.5" y="188">MPZ</text></g>
<g id="sm2"><rect class="b" x="506" y="198" width="21" height="8"/><text x="516.5" y="204">MAG</text></g>
<g id="sm3"><rect class="o" x="506" y="213" width="21" height="8"/><text x="516.5" y="219">CDHE</text><use href="#t" x="501" y="217"/></g>
<g id="sn1"><rect class="b" x="549" y="182" width="23" height="8"/><text x="560.5" y="188">MPZ</text></g>
<g id="sn2"><rect class="b" x="549" y="198" width="23" height="8"/><text x="560.5" y="204">MAG</text></g>
<g id="sn3"><rect class="o" x="549" y="213" width="23" height="8"/><text x="560.5" y="219">CDHE</text><use href="#t" x="578" y="217"/></g>
<g id="ol1"><rect class="b" x="506" y="272" width="21" height="8"/><text x="516.5" y="278">CSPG2</text></g>
<g id="ol2"><rect class="b" x="506" y="304" width="21" height="8"/><text x="516.5" y="310">NFASC</text><rect class="b" x="506" y="315.5" width="21" height="8"/><text x="516.5" y="321.5">CNTN1</text></g>
<g id="ol3"><rect class="b" x="506" y="337.5" width="21" height="8"/><text x="516.5" y="343.5">CNTN2</text></g>
<g id="ol4"><rect class="b" x="506" y="394" width="21" height="8"/><text x="516.5" y="400">CLDN11</text></g>
<g id="oa1"><rect class="b" x="549" y="261" width="23" height="8"/><text x="560.5" y="267">NRCAM</text></g>
<g id="oa2"><rect class="b" x="549" y="272.5" width="23" height="8"/><text x="560.5" y="278.5">NFASC</text></g>
<g id="oa3"><rect class="b" x="549" y="285" width="23" height="8"/><text x="560.5" y="291">CNTN1</text></g>
<g id="oa4"><rect class="b" x="549" y="306" width="23" height="8"/><text x="560.5" y="312">CNTN1</text><rect class="b" x="549" y="314" width="23" height="8"/><text x="560.5" y="320" textLength="20" lengthAdjust="spacingAndGlyphs">CNTNAP1</text></g>
<g id="oa5"><rect class="b" x="549" y="338" width="23" height="8"/><text x="560.5" y="344">CNTN2</text><rect class="b" x="549" y="346.5" width="23" height="8"/><text x="560.5" y="352.5" textLength="20" lengthAdjust="spacingAndGlyphs">CNTNAP2</text><circle class="rd" cx="578" cy="350.5" r="3.5"/></g>
<g id="oa6"><rect class="b" x="549" y="394" width="23" height="8"/><text x="560.5" y="400">CLDN11</text></g>
</g>

<g id="other">
<g id="o1"><rect class="g" x="602" y="54" width="22" height="8"/><text x="613" y="60">CLDN</text><use href="#t" x="596" y="58"/></g>
<g id="o2"><rect class="b" x="602" y="68" width="22" height="8"/><text x="613" y="74">OCLN</text></g>
<g id="o3"><rect class="b" x="602" y="82.5" width="22" height="8"/><text x="613" y="88.5">JAM1</text></g>
<g id="o4"><rect class="b" x="602" y="95.5" width="22" height="8"/><text x="613" y="101.5">PVRL1</text></g>
<g id="o5"><rect class="o" x="602" y="108.5" width="22" height="8"/><text x="613" y="114.5">CDHE</text><use href="#t" x="596" y="112.5"/></g>
<g id="o6"><rect class="b" x="602" y="122" width="22" height="8"/><text x="613" y="128">IGSF4</text></g>
<g id="q1"><rect class="g" x="644" y="54" width="23" height="8"/><text x="655.5" y="60">CLDN</text><use href="#t" x="673" y="58"/></g>
<g id="q2"><rect class="b" x="644" y="68" width="23" height="8"/><text x="655.5" y="74">OCLN</text></g>
<g id="q3"><rect class="b" x="644" y="82.5" width="23" height="8"/><text x="655.5" y="88.5">JAM1</text></g>
<g id="q4"><rect class="b" x="644" y="95.5" width="23" height="8"/><text x="655.5" y="101.5">PVRL1</text></g>
<g id="q5"><rect class="o" x="644" y="108.5" width="23" height="8"/><text x="655.5" y="114.5">CDHE</text><use href="#t" x="673" y="112.5"/></g>
<g id="q6"><rect class="b" x="644" y="122" width="23" height="8"/><text x="655.5" y="128">IGSF4</text></g>
<g id="sp1"><rect class="o" x="602" y="205" width="22" height="8"/><text x="613" y="211">CDHE</text><use href="#t" x="596" y="209"/></g>
<g id="sp2"><rect class="b" x="602" y="218" width="22" height="8"/><text x="613" y="224">CDH2</text></g>
<g id="sp3"><rect class="b" x="602" y="231" width="22" height="8"/><text x="613" y="237">PVRL3</text></g>
<g id="se1"><rect class="o" x="644" y="205" width="23" height="8"/><text x="655.5" y="211">CDHE</text><use href="#t" x="673" y="209"/></g>
<g id="se2"><rect class="b" x="644" y="218" width="23" height="8"/><text x="655.5" y="224">CDH2</text></g>
<g id="se3"><rect class="b" x="644" y="231" width="23" height="8"/><text x="655.5" y="237">PVRL2</text></g>
<g id="se4"><rect class="b" x="644" y="243" width="23" height="8"/><text x="655.5" y="249">ITGA6</text><rect class="b" x="644" y="251" width="23" height="8"/><text x="655.5" y="257">ITGB1</text></g>
<g id="pg1"><rect class="b" x="602" y="298" width="22" height="8"/><text x="613" y="304">PVRL1</text></g>
<g id="pg2"><rect class="b" x="602" y="311" width="22" height="8"/><text x="613" y="317">PVRL3</text></g>
<g id="pg3"><rect class="b" x="602" y="326" width="22" height="8"/><text x="613" y="332">CDH3</text><use href="#t" x="596" y="330"/></g>
<g id="np21"><rect class="b" x="644" y="298" width="23" height="8"/><text x="655.5" y="304">PVRL3</text></g>
<g id="np22"><rect class="b" x="644" y="311" width="23" height="8"/><text x="655.5" y="317">PVRL1</text></g>
<g id="np23"><rect class="b" x="644" y="326" width="23" height="8"/><text x="655.5" y="332">CDH3</text><use href="#t" x="673" y="330"/></g>
<g id="my1"><rect class="b" x="602" y="358" width="22" height="8"/><text x="613" y="364">CDH2</text></g>
<g id="my2"><rect class="o" x="602" y="371" width="22" height="8"/><text x="613" y="377">CDH4</text><circle class="rd" cx="596" cy="375" r="3.5"/></g>
<g id="my3"><rect class="b" x="602" y="384" width="22" height="8"/><text x="613" y="390">CDH15</text></g>
<g id="mz1"><rect class="b" x="644" y="358" width="23" height="8"/><text x="655.5" y="364">CDH2</text></g>
<g id="mz2"><rect class="o" x="644" y="371" width="23" height="8"/><text x="655.5" y="377">CDH4</text><circle class="rd" cx="672.5" cy="375" r="3.5"/></g>
<g id="mz3"><rect class="b" x="644" y="384" width="23" height="8"/><text x="655.5" y="390">CDH15</text></g>
<g id="mz4"><rect class="b" x="644" y="396" width="23" height="8"/><text x="655.5" y="402">NEO1</text></g>
</g>

<g id="legend">
<rect x="21" y="458" width="12" height="7" fill="#fff" stroke="#5fd65f" stroke-width="1.2"/><text class="lg" x="37" y="465.5">Down-regulated genes in L group</text>
<rect x="201" y="458" width="12" height="7" fill="#fff" stroke="#dc9a55" stroke-width="1.2"/><text class="lg" x="217" y="465.5" style="font-size:9.3px">Up-regulated genes in L group</text>
<path d="M377,457.5L381.5,465L372.5,465Z" fill="#1f6fe5"/><text class="lg" x="385" y="465.5" style="font-size:8.6px">Down-regulated genes in H group</text>
<circle class="rd" cx="552" cy="461.5" r="4"/><text class="lg" x="559" y="465.5" style="font-size:8.5px">Up-regulated genes in H group</text>
</g>
</svg>
